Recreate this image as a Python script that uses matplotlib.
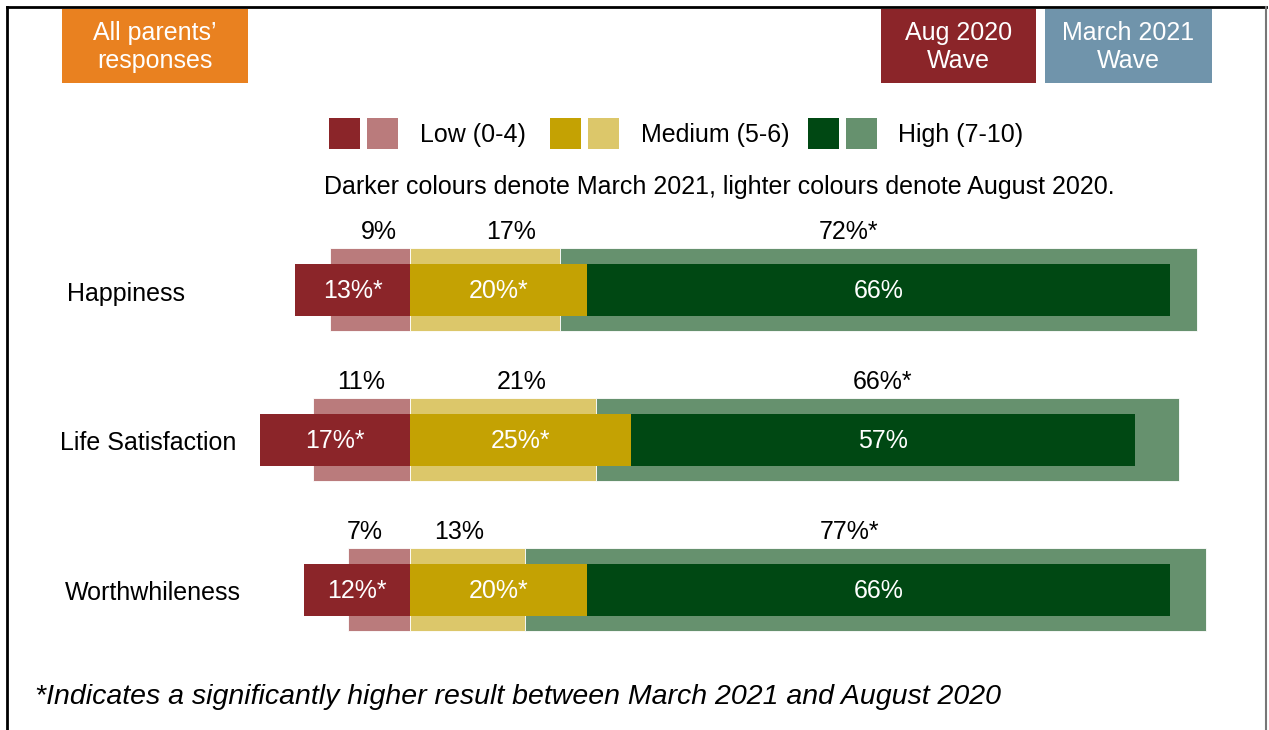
import numpy as np
import matplotlib.pyplot as plt
from matplotlib.patches import Rectangle

plt.rcParams['font.family'] = ['Liberation Sans', 'DejaVu Sans']

categories = ['Happiness', 'Life Satisfaction', 'Worthwhileness']
# Aug 2020 (lighter, wider bars)
aug_low = [9, 11, 7]
aug_med = [17, 21, 13]
aug_high = [72, 66, 77]
aug_labels = [['9%', '17%', '72%*'], ['11%', '21%', '66%*'], ['7%', '13%', '77%*']]
# March 2021 (darker, thinner bars)
mar_low = [13, 17, 12]
mar_med = [20, 25, 20]
mar_high = [66, 57, 66]
mar_labels = [['13%*', '20%*', '66%'], ['17%*', '25%*', '57%'], ['12%*', '20%*', '66%']]

dark = ['#8B2529', '#C4A203', '#004813']
light = ['#BA7B7C', '#DCC76A', '#66916E']

# small nudges of the top labels (in %) to match the original placement
nudge = [[1.0, 2.9, -3.4], [0.0, 2.1, -0.5], [-1.6, -0.9, -1.8]]

W, H = 1269, 730
ppu = 8.84     # pixels per percentage point
x0 = 410       # pixel of the low/medium boundary

fig = plt.figure(figsize=(W / 100, H / 100), dpi=100)
ax = fig.add_axes([0, 0, 1, 1])
ax.set_xlim(-x0 / ppu, (W - x0) / ppu)
ax.set_ylim(H, 0)
ax.axis('off')

ycent = [289.5, 439.5, 589.5]
hl, hd = 83, 52
fs = 18

for i, cat in enumerate(categories):
    y = ycent[i]
    lo, me, hi = aug_low[i], aug_med[i], aug_high[i]
    ax.barh(y, -lo, left=0, height=hl, color=light[0], edgecolor='white', linewidth=0.6)
    ax.barh(y, me, left=0, height=hl, color=light[1], edgecolor='white', linewidth=0.6)
    ax.barh(y, hi, left=me, height=hl, color=light[2], edgecolor='white', linewidth=0.6)
    centers = [-lo / 2, me / 2, me + hi / 2]
    for j in range(3):
        ax.text(centers[j] + nudge[i][j], y - hl / 2 - 16, aug_labels[i][j],
                ha='center', va='center', fontsize=fs, color='black')

    lo, me, hi = mar_low[i], mar_med[i], mar_high[i]
    ax.barh(y, -lo, left=0, height=hd, color=dark[0])
    ax.barh(y, me, left=0, height=hd, color=dark[1])
    ax.barh(y, hi, left=me, height=hd, color=dark[2])
    centers = [-lo / 2, me / 2, me + hi / 2]
    for j in range(3):
        ax.text(centers[j], y + 2, mar_labels[i][j], ha='center', va='center',
                fontsize=fs, color='white')

cat_x = [67, 60, 65]
for i, cat in enumerate(categories):
    fig.text(cat_x[i] / W, 1 - (ycent[i] + 4) / H, cat, ha='left', va='center', fontsize=fs)

# legend
def box(px, py, w, h, color):
    fig.patches.append(Rectangle((px / W, 1 - (py + h) / H), w / W, h / H,
                                 transform=fig.transFigure, facecolor=color,
                                 edgecolor='none'))

leg_names = ['Low (0-4)', 'Medium (5-6)', 'High (7-10)']
leg_sq = [329, 550, 808]
leg_tx = [420, 641, 898]
for k in range(3):
    box(leg_sq[k], 118, 31, 31, dark[k])
    box(leg_sq[k] + 38, 118, 31, 31, light[k])
    fig.text(leg_tx[k] / W, 1 - 135 / H, leg_names[k], ha='left', va='center', fontsize=fs)

fig.text(719 / W, 1 - 187 / H,
         'Darker colours denote March 2021, lighter colours denote August 2020.',
         ha='center', va='center', fontsize=fs)

# header boxes
heads = [('All parents\u2019\nresponses', 62, 186, '#E98120'),
         ('Aug 2020\nWave', 881, 155, '#8B2529'),
         ('March 2021\nWave', 1045, 167, '#7094AB')]
for txt, px, w, col in heads:
    box(px, 9, w, 74, col)
    fig.text((px + w / 2) / W, 1 - 47 / H, txt, ha='center', va='center',
             fontsize=fs, color='white', linespacing=1.2)

fig.text(35 / W, 1 - 697 / H,
         '*Indicates a significantly higher result between March 2021 and August 2020',
         ha='left', va='center', fontsize=20.5, style='italic')

# frame
fig.add_artist(plt.Line2D([7 / W, 7 / W], [0, 1 - 7 / H], transform=fig.transFigure,
                          color='black', lw=2))
fig.add_artist(plt.Line2D([7 / W, 1266 / W], [1 - 7 / H, 1 - 7 / H],
                          transform=fig.transFigure, color='black', lw=2))
fig.add_artist(plt.Line2D([1266 / W, 1266 / W], [0, 1 - 7 / H], transform=fig.transFigure,
                          color='#777777', lw=1.5))

fig.savefig('out.png', dpi=100)
